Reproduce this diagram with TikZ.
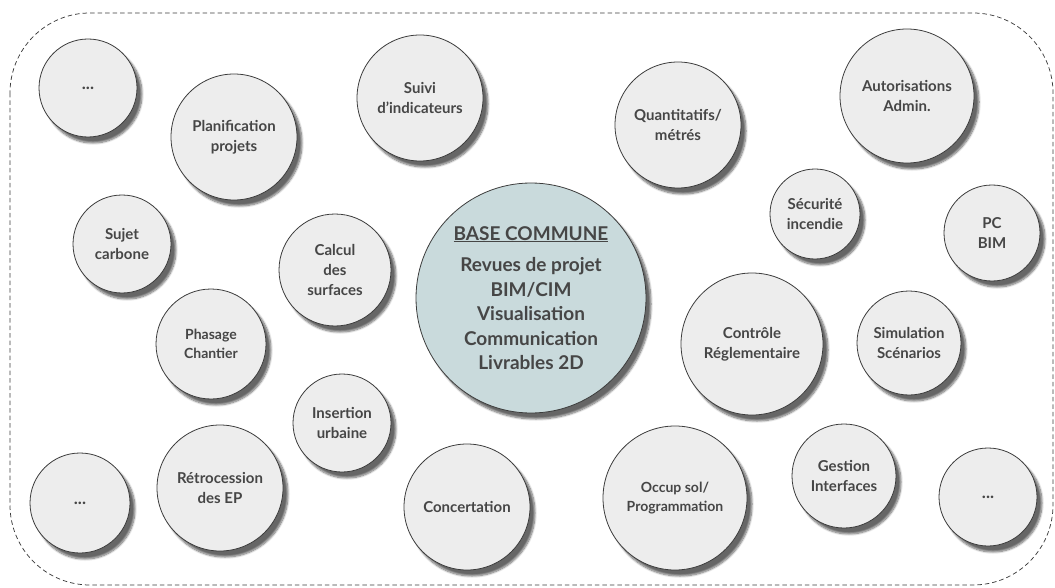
\documentclass[tikz,border=0pt]{standalone}
\usepackage{fontspec}
\setmainfont{Lato}
\usetikzlibrary{shadows.blur}
\definecolor{bubblefill}{RGB}{237,237,237}
\definecolor{bubbleline}{RGB}{60,60,60}
\definecolor{basefill}{RGB}{201,218,220}
\definecolor{labeltext}{RGB}{70,70,70}
\begin{document}
\begin{tikzpicture}[x=1pt,y=-1pt,
    bubble/.style={circle,draw=bubbleline,line width=0.8pt,fill=bubblefill,
      inner sep=0pt,align=center,text=labeltext,
      font=\bfseries\fontsize{15}{20}\selectfont,
      blur shadow={shadow xshift=5pt,shadow yshift=-6pt,shadow blur steps=8,shadow opacity=60}},
    smalltext/.style={font=\bfseries\fontsize{14}{19.5}\selectfont},
    basebubble/.style={bubble,fill=basefill,font=\bfseries\fontsize{19}{24.5}\selectfont},
    frame/.style={draw=bubbleline,line width=0.75pt,dash pattern=on 4.5pt off 3pt,rounded corners=80pt}]
        \useasboundingbox (0,0) rectangle (1055,588);
        \draw[frame] (10,13) rectangle (1053,585);
        % centre
        \node[basebubble,minimum size=230] (base) at (531,298)
          {\underline{BASE COMMUNE}\\[7pt]Revues de projet\\BIM/CIM\\Visualisation\\Communication\\Livrables 2D};
        % top row
        \node[bubble,minimum size=98] (dotsnw) at (88,88) {\fontsize{17}{20}\selectfont...};
        \node[bubble,minimum size=126] (planif) at (234,137) {Planification\\projets};
        \node[bubble,minimum size=126] (suivi) at (420,98) {Suivi\\d'indicateurs};
        \node[bubble,minimum size=126] (quanti) at (678,125) {Quantitatifs/\\métrés};
        \node[bubble,minimum size=134] (autor) at (907,96) {Autorisations\\Admin.};
        % middle
        \node[bubble,minimum size=98] (carbone) at (122,244) {Sujet\\carbone};
        \node[bubble,minimum size=112] (surfaces) at (335,270) {Calcul\\des\\surfaces};
        \node[bubble,minimum size=90] (incendie) at (815,214) {Sécurité\\incendie};
        \node[bubble,minimum size=96] (pcbim) at (992,233) {PC\\BIM};
        \node[bubble,smalltext,minimum size=110] (phasage) at (211,344) {Phasage\\Chantier};
        \node[bubble,minimum size=142] (controle) at (752,344) {Contrôle\\Réglementaire};
        \node[bubble,minimum size=104] (simul) at (909,343) {Simulation\\Scénarios};
        \node[bubble,minimum size=98] (insertion) at (342,423) {Insertion\\urbaine};
        % bottom row
        \node[bubble,minimum size=100] (dotssw) at (80,503) {\fontsize{17}{20}\selectfont...};
        \node[bubble,minimum size=126] (retro) at (220,488) {Rétrocession\\des EP};
        \node[bubble,minimum size=126] (concert) at (467,507) {Concertation};
        \node[bubble,smalltext,minimum size=144] (occup) at (675,498) {Occup sol/\\Programmation};
        \node[bubble,minimum size=104] (gestion) at (844,476) {Gestion\\Interfaces};
        \node[bubble,minimum size=98] (dotsse) at (988,497) {\fontsize{17}{20}\selectfont...};
      \end{tikzpicture}
\end{document}
